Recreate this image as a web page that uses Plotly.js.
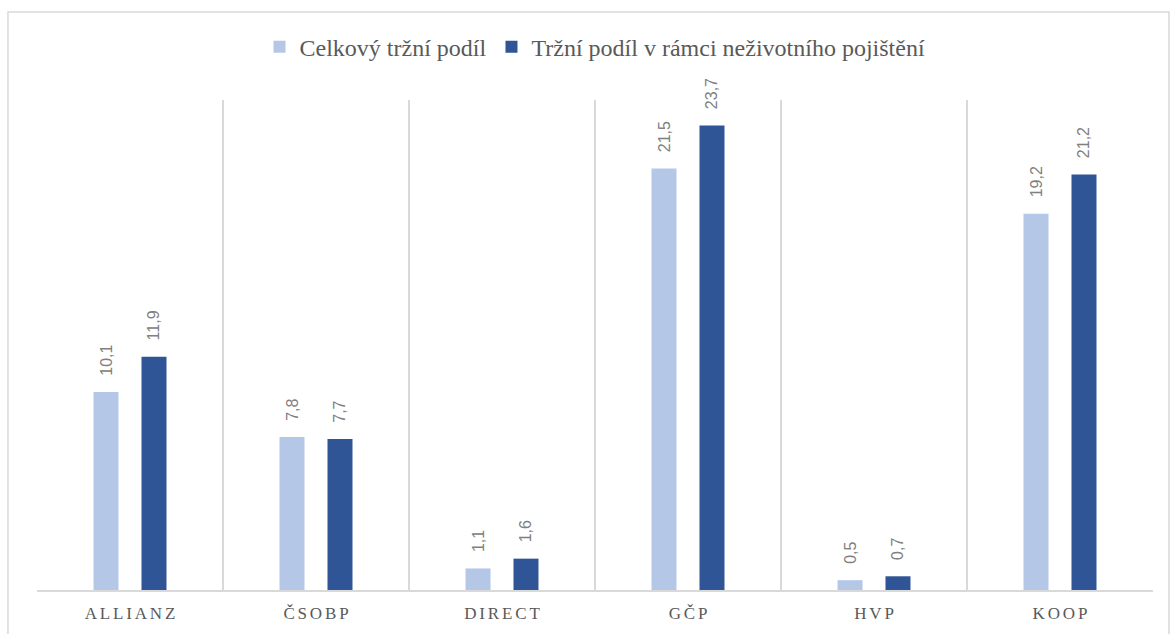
<!DOCTYPE html>
<html>
<head>
<meta charset="utf-8">
<script src="https://cdn.plot.ly/plotly-3.0.1.min.js"></script>
<style>html,body{margin:0;padding:0;background:#fff;}#chart{width:1170px;height:634px;}</style>
</head>
<body>
<div id="chart"></div>
<script>
const categories = ["ALLIANZ", "ČSOBP", "DIRECT", "GČP", "HVP", "KOOP"];
const seriesNames = ["Celkový tržní podíl", "Tržní podíl v rámci neživotního pojištění"];
const totalShare = [10.1, 7.8, 1.1, 21.5, 0.5, 19.2];
const nonLifeShare = [11.9, 7.7, 1.6, 23.7, 0.7, 21.2];

const spaced = categories.map(c => c.split("").join("\u200A\u200A"));

const common = {
  type: "bar",
  x: categories,
  texttemplate: "\u00a0\u00a0\u00a0%{y:.1f}",
  textposition: "outside",
  textangle: -90,
  constraintext: "none",
  cliponaxis: false,
  textfont: {family: "Liberation Sans, Arial, sans-serif", size: 16, color: "#808080"},
  hoverinfo: "skip"
};

const traces = [
  Object.assign({}, common, {name: seriesNames[0], y: totalShare, marker: {color: "#b4c7e7"}}),
  Object.assign({}, common, {name: seriesNames[1], y: nonLifeShare, marker: {color: "#2f5597"}})
];

const layout = {
  width: 1170, height: 634,
  margin: {l: 37, r: 17, t: 100, b: 44},
  paper_bgcolor: "#fff", plot_bgcolor: "#fff",
  separators: ", ",
  barmode: "group",
  bargap: 0.484,
  bargroupgap: 0.479,
  showlegend: true,
  legend: {
    orientation: "h", x: 0.5, xanchor: "center", y: 1.108, yanchor: "middle",
    font: {family: "Liberation Serif, Times New Roman, serif", size: 24, color: "#595959"},
    traceorder: "normal"
  },
  xaxis: {
    type: "category",
    tickmode: "array", tickvals: categories, ticktext: spaced,
    tickson: "boundaries",
    showgrid: true, gridcolor: "#d9d9d9", gridwidth: 1.5,
    showline: true, linecolor: "#d9d9d9", linewidth: 1.5,
    ticks: "", ticklen: 0,
    ticklabelstandoff: 7,
    tickfont: {family: "Liberation Serif, Times New Roman, serif", size: 17, color: "#595959"},
    fixedrange: true
  },
  yaxis: {
    range: [0, 25],
    showgrid: false, zeroline: false, showticklabels: false, showline: false, ticks: "",
    fixedrange: true
  },
  shapes: [{
    type: "rect", xref: "paper", yref: "paper",
    x0: -0.026, x1: 1.0143, y0: -0.11, y1: 1.1796,
    line: {color: "#d9d9d9", width: 1.5}, fillcolor: "rgba(0,0,0,0)", layer: "below"
  }]
};

Plotly.newPlot("chart", traces, layout, {displayModeBar: false, staticPlot: true});
</script>
</body>
</html>
